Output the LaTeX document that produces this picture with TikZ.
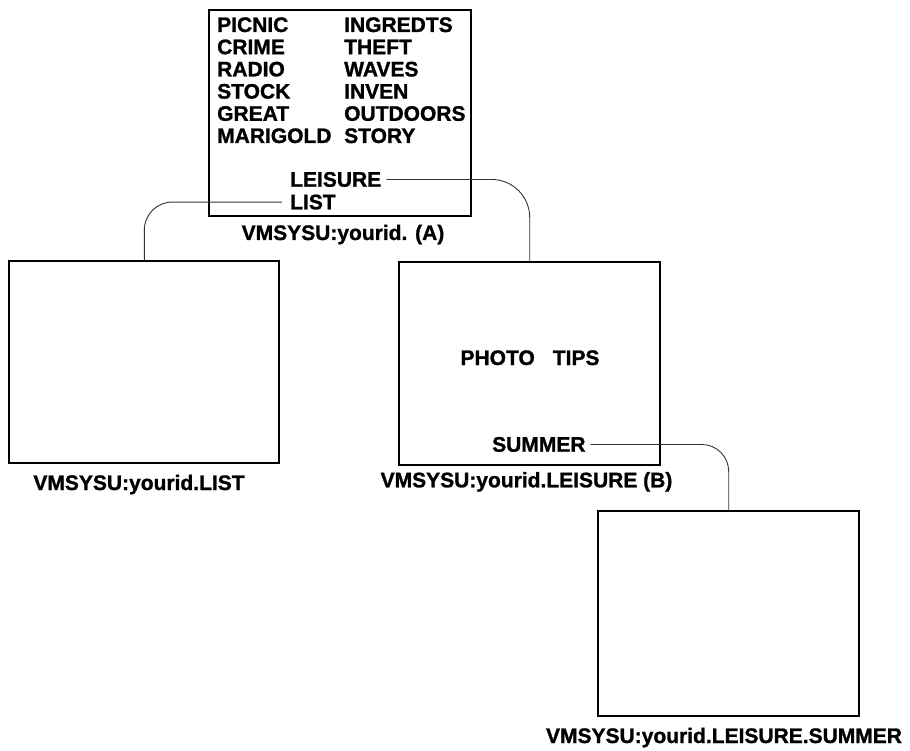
\documentclass[tikz,border=0pt]{standalone}
\usepackage{fontspec}
\setmainfont{Liberation Sans}[BoldFeatures={FakeBold=1.2}]
\usepackage{tikz}
\usetikzlibrary{positioning,calc}
\tikzset{
  dir/.style={draw=black, line width=2pt, inner sep=0pt, outer sep=0pt},
  wd/.style={font=\fontsize{21}{24}\selectfont\bfseries, inner sep=3pt, anchor=base west},
  dname/.style={font=\fontsize{21}{24}\selectfont\bfseries, inner sep=0pt, anchor=base},
  fl/.style={black!80, line width=0.9pt},
}

\begin{document}
\begin{tikzpicture}[x=1pt, y=-1pt]
\useasboundingbox (0,0) rectangle (910,751);
% directory boxes
\node[dir, minimum width=262, minimum height=206] (A) at (340,113) {};
\node[dir, minimum width=270, minimum height=202] (L) at (144.3,361.7) {};
\node[dir, minimum width=261, minimum height=203] (B) at (529.7,363.4) {};
\node[dir, minimum width=261, minimum height=205] (C) at (728.7,613.2) {};
% files in (A)
\node[wd] (picnic) at ($(A.north west)+(5,22)$) {PICNIC};
\node[wd] (crime) at ($(A.north west)+(5,44.2)$) {CRIME};
\node[wd] (radio) at ($(A.north west)+(5,66.4)$) {RADIO};
\node[wd] (stock) at ($(A.north west)+(5,88.6)$) {STOCK};
\node[wd] (great) at ($(A.north west)+(5,110.8)$) {GREAT};
\node[wd] (marig) at ($(A.north west)+(5,133)$) {MARIGOLD};
\node[wd] (ingr) at ($(A.north west)+(132,22)$) {INGREDTS};
\node[wd] (theft) at ($(A.north west)+(132,44.2)$) {THEFT};
\node[wd] (waves) at ($(A.north west)+(132,66.4)$) {WAVES};
\node[wd] (inven) at ($(A.north west)+(132,88.6)$) {INVEN};
\node[wd] (outd) at ($(A.north west)+(132,110.8)$) {OUTDOORS};
\node[wd] (story) at ($(A.north west)+(132,133)$) {STORY};
\node[wd] (leis) at ($(A.north west)+(78,176.7)$) {LEISURE};
\node[wd] (list) at ($(A.north west)+(78,199.3)$) {LIST};
% files in (B)
\node[dname] (photo) at (530,365) {PHOTO\hspace{18pt}TIPS};
\node[wd] (summ) at (489,451.7) {SUMMER};
% directory names
\node[dname] (nameA) at (343,240) {VMSYSU:yourid. (A)};
\node[dname] (nameL) at (139,490) {VMSYSU:yourid.LIST};
\node[dname] (nameB) at (526.5,487.3) {VMSYSU:yourid.LEISURE (B)};
\node[dname] (nameC) at (724,743) {VMSYSU:yourid.LEISURE.SUMMER};
% links
\draw[fl, rounded corners=28pt] ([xshift=-5]list.west) -| (L.north);
\draw[fl, rounded corners=38pt] ([xshift=2]leis.east) -| (B.north);
\draw[fl, rounded corners=27pt] ([xshift=2]summ.east) -| (C.north);
\end{tikzpicture}
\end{document}
